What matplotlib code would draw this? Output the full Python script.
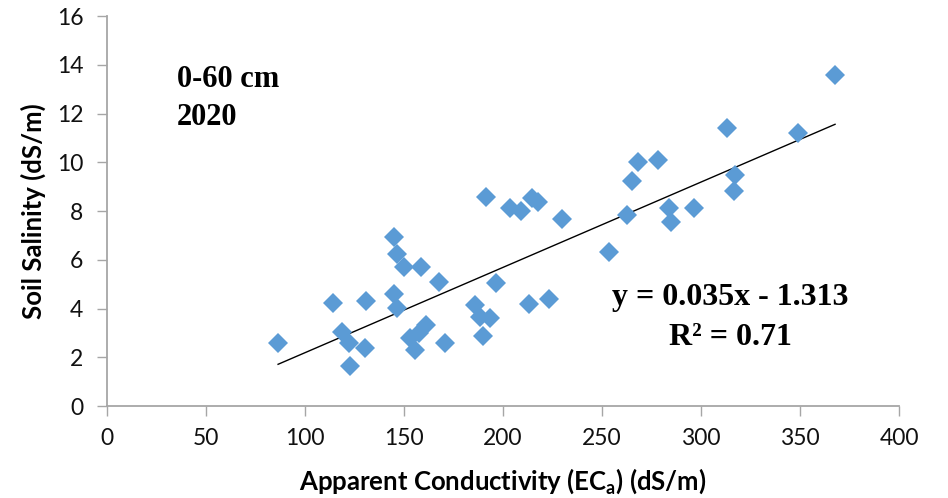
import matplotlib
matplotlib.use('Agg')
import numpy as np
from matplotlib import pyplot as plt

# EC_a readings and measured soil salinity, 0-60 cm, 2020
eca = [86.4, 114.3, 130.8, 144.9, 146.6, 150.0, 158.4, 167.5, 144.9, 146.6,
       118.5, 122.4, 130.3, 122.7, 161.1, 157.7, 153.0, 155.6, 170.7, 185.9,
       188.4, 193.4, 190.1, 196.5, 191.4, 203.5, 209.1, 214.8, 217.8, 230.0,
       213.3, 223.2, 367.7, 313.3, 349.1, 268.3, 278.1, 265.3, 317.3, 316.7,
       262.5, 284.0, 284.8, 296.6, 253.7]
salinity = [2.58, 4.21, 4.32, 6.92, 6.24, 5.71, 5.71, 5.10, 4.59, 4.01,
            3.05, 2.57, 2.37, 1.64, 3.32, 2.98, 2.78, 2.30, 2.57, 4.14,
            3.66, 3.60, 2.87, 5.03, 8.56, 8.11, 8.00, 8.55, 8.38, 7.67,
            4.18, 4.38, 13.58, 11.41, 11.19, 10.02, 10.09, 9.23, 9.48, 8.82,
            7.84, 8.12, 7.55, 8.12, 6.31]

slope = 0.035
intercept = -1.313
r2 = 0.71

xticks = [0, 50, 100, 150, 200, 250, 300, 350, 400]
yticks = [0, 2, 4, 6, 8, 10, 12, 14, 16]

plt.rcParams['font.family'] = ['Lato', 'DejaVu Sans']
plt.rcParams['mathtext.fontset'] = 'custom'
plt.rcParams['mathtext.bf'] = 'Lato:bold'
plt.rcParams['mathtext.rm'] = 'Lato'

fig = plt.figure(figsize=(9.48, 4.98), dpi=100)
ax = fig.add_axes([107 / 948, 92 / 498, 792 / 948, 390 / 498])

ax.plot(eca, salinity, linestyle='none', marker='D', markersize=9.8,
        color='#5B9BD5', markeredgewidth=0, zorder=3)

xfit = np.array([min(eca), max(eca)])
ax.plot(xfit, slope * xfit + intercept, color='black', lw=1.0, zorder=2)

ax.set_xlim(0, 400)
ax.set_ylim(0, 16)
ax.set_xticks(xticks)
ax.set_yticks(yticks)

for side in ['top', 'right']:
    ax.spines[side].set_visible(False)
for side in ['left', 'bottom']:
    ax.spines[side].set_color('#A6A6A6')
    ax.spines[side].set_linewidth(1.3)
ax.tick_params(axis='both', direction='out', length=7, width=1.0,
               color='#A6A6A6', labelsize=16.5, labelcolor='#111111')
ax.tick_params(axis='y', pad=10)
ax.tick_params(axis='x', pad=9)

ax.set_ylabel('Soil Salinity (dS/m)', fontsize=18.5, fontweight='bold')
ax.set_xlabel(r'Apparent Conductivity (EC$_{\mathbf{a}}$) (dS/m)', fontsize=18.5,
              fontweight='bold')
ax.xaxis.label.set_va('center')
ax.yaxis.label.set_va('center')
ax.xaxis.set_label_coords(0.5, (406 - 481) / 390)
ax.yaxis.set_label_coords((33 - 107) / 792, 0.5)

serif = ['Liberation Serif', 'DejaVu Serif']
ax.text(35.2, 13.1, '0-60 cm', family=serif, fontweight='bold', fontsize=22,
        ha='left', va='baseline')
ax.text(35.2, 11.54, '2020', family=serif, fontweight='bold', fontsize=22,
        ha='left', va='baseline')
ax.text(314.9, 4.14, 'y = %.3fx - %.3f' % (slope, -intercept), family=serif,
        fontweight='bold', fontsize=23, ha='center', va='baseline')
ax.text(314.9, 2.50, 'R² = %.2f' % r2, family=serif, fontweight='bold',
        fontsize=23, ha='center', va='baseline')

fig.savefig('out.png', dpi=100)
